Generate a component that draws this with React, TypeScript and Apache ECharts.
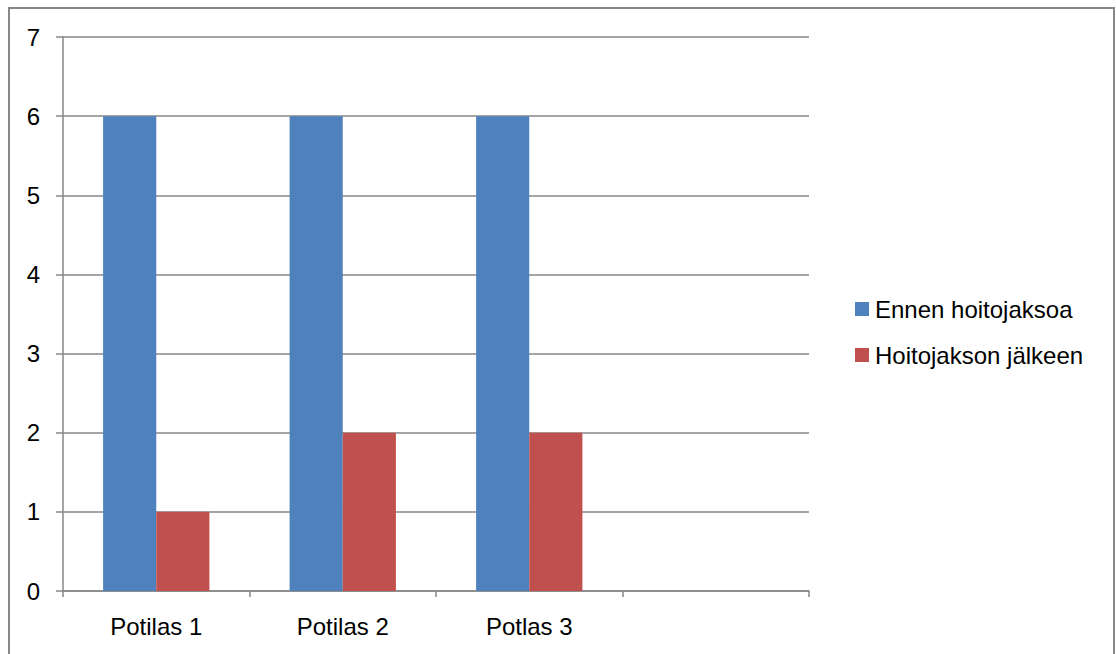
import React, { useEffect, useRef } from "react";
import * as echarts from "echarts";

const categories = ["Potilas 1", "Potilas 2", "Potlas 3", ""];
const ennen = [6, 6, 6, null];
const jalkeen = [1, 2, 2, null];
const seriesNames = ["Ennen hoitojaksoa", "Hoitojakson jälkeen"];

const FONT = "'Liberation Sans', sans-serif";

export default function App() {
  const ref = useRef<HTMLDivElement>(null);
  useEffect(() => {
    const chart = echarts.init(ref.current!, null, { renderer: "svg" });
    chart.setOption({
      animation: false,
      backgroundColor: "#fff",
      graphic: [
        {
          type: "rect",
          shape: { x: 9, y: 8, width: 1105, height: 700 },
          style: { fill: "none", stroke: "#878787", lineWidth: 2 },
          silent: true,
        },
      ],
      grid: { left: 63, right: 307, top: 37, bottom: 63 },
      legend: {
        orient: "vertical",
        left: 850,
        top: 292,
        itemWidth: 14,
        itemHeight: 14,
        itemGap: 22,
        icon: "rect",
        textStyle: { fontFamily: FONT, fontSize: 24, color: "#000", padding: [0, 0, 0, 1] },
        data: seriesNames,
      },
      xAxis: {
        type: "category",
        data: categories,
        axisLine: { lineStyle: { color: "#878787", width: 1.5 } },
        axisTick: { show: true, length: 6, inside: false, lineStyle: { color: "#878787", width: 1.5 } },
        axisLabel: { fontFamily: FONT, fontSize: 24, color: "#000", margin: 23 },
      },
      yAxis: {
        type: "value",
        min: 0,
        max: 7,
        interval: 1,
        axisLine: { show: true, lineStyle: { color: "#878787", width: 1.5 } },
        axisTick: { show: true, length: 7, lineStyle: { color: "#878787", width: 1.5 } },
        splitLine: { show: true, lineStyle: { color: "#878787", width: 1.5 } },
        axisLabel: { fontFamily: FONT, fontSize: 24, color: "#000", margin: 23 },
      },
      series: [
        {
          name: seriesNames[0],
          type: "bar",
          data: ennen,
          itemStyle: { color: "#4F81BD" },
          barGap: "0%",
          barCategoryGap: "43%",
        },
        {
          name: seriesNames[1],
          type: "bar",
          data: jalkeen,
          itemStyle: { color: "#C0504D" },
          barGap: "0%",
          barCategoryGap: "43%",
        },
      ],
    });
    return () => chart.dispose();
  }, []);
  return (
    <div
      ref={ref}
      style={{ position: "fixed", left: 0, top: 0, width: 1116, height: 654 }}
    />
  );
}
